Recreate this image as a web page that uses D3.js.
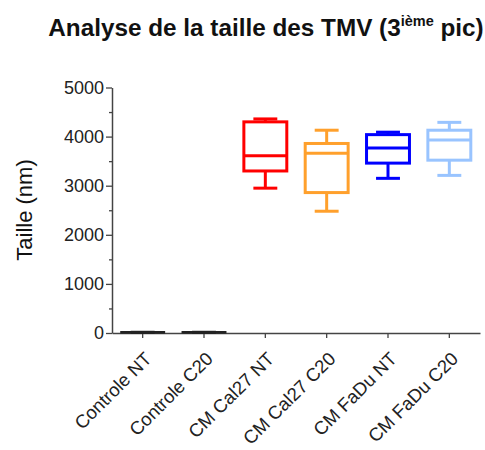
<!DOCTYPE html>
<html><head><meta charset="utf-8">
<script src="https://cdn.jsdelivr.net/npm/d3@7"></script>
<style>body{margin:0;background:#fff}svg{display:block}</style>
</head><body>
<svg id="c" width="485" height="450"></svg>
<script>
const categories = ["Controle NT","Controle C20","CM Cal27 NT","CM Cal27 C20","CM FaDu NT","CM FaDu C20"];
const mins    = [5, 5, 2950, 2480, 3150, 3210];
const q1s     = [10, 10, 3300, 2860, 3460, 3520];
const medians = [15, 15, 3610, 3660, 3770, 3930];
const q3s     = [20, 20, 4300, 3860, 4040, 4130];
const maxs    = [25, 25, 4360, 4130, 4090, 4290];
const colors  = ["#222222","#222222","#ff0000","#ffa02c","#0000ff","#99c4ff"];
const yTicks = [0,1000,2000,3000,4000,5000];

const FONT = "Arial, Liberation Sans, sans-serif";
const svg = d3.select("#c");
const x = d3.scaleBand().domain(categories).range([112, 480]).paddingInner(0).paddingOuter(0);
const y = d3.scaleLinear().domain([0, 5000]).range([333, 87.5]);

// title
const t = svg.append("text").attr("x", 266).attr("y", 36).attr("text-anchor","middle")
  .attr("font-family",FONT).attr("font-weight","bold").attr("font-size",24.3).attr("fill","#111");
t.append("tspan").text("Analyse de la taille des TMV (3");
t.append("tspan").attr("font-size",14.5).attr("dy",-10).text("ième");
t.append("tspan").attr("dy",10).text(" pic)");

// y label
svg.append("text").attr("transform","translate(32,210) rotate(-90)").attr("text-anchor","middle")
  .attr("font-family",FONT).attr("font-size",22).attr("fill","#111").text("Taille (nm)");

// y axis
const yAxis = d3.axisLeft(y).tickValues(yTicks).tickSize(6).tickSizeOuter(0).tickFormat(d3.format("d"));
const gy = svg.append("g").attr("transform","translate(112,0)").call(yAxis);
gy.selectAll("text").attr("font-family",FONT).attr("font-size",18).attr("fill","#222").attr("x",-8);
gy.selectAll("line").attr("stroke","#444").attr("stroke-width",1.3);
gy.select(".domain").attr("stroke","#444").attr("stroke-width",1.5);
const minor = d3.axisLeft(y).tickValues([500,1500,2500,3500,4500]).tickSize(3).tickFormat("").tickSizeOuter(0);
const gm = svg.append("g").attr("transform","translate(112,0)").call(minor);
gm.select(".domain").remove();
gm.selectAll("line").attr("stroke","#444").attr("stroke-width",1.3);

// x axis
const xAxis = d3.axisBottom(x).tickSize(5).tickSizeOuter(0);
const gx = svg.append("g").attr("transform","translate(0,333)").call(xAxis);
gx.select(".domain").attr("stroke","#444").attr("stroke-width",1.5);
gx.selectAll("line").attr("stroke","#444").attr("stroke-width",1.3);
gx.selectAll("text").attr("font-family",FONT).attr("font-size",18.5).attr("fill","#222")
  .attr("text-anchor","end").attr("transform","translate(10,27) rotate(-45)").attr("dy",0).attr("y",0).attr("x",0);

// boxes
const bw = x.bandwidth()*0.7, cw = x.bandwidth()*0.39;
const g = svg.append("g");
categories.forEach((c,i)=>{
  const cx = x(c)+x.bandwidth()/2, col = colors[i], sw = i<2 ? 2 : 3;
  const gg = g.append("g").attr("stroke",col).attr("stroke-width",sw).attr("fill","none");
  gg.append("line").attr("x1",cx).attr("x2",cx).attr("y1",y(maxs[i])).attr("y2",y(q3s[i]));
  gg.append("line").attr("x1",cx).attr("x2",cx).attr("y1",y(q1s[i])).attr("y2",y(mins[i]));
  gg.append("line").attr("x1",cx-cw/2).attr("x2",cx+cw/2).attr("y1",y(maxs[i])).attr("y2",y(maxs[i]));
  gg.append("line").attr("x1",cx-cw/2).attr("x2",cx+cw/2).attr("y1",y(mins[i])).attr("y2",y(mins[i]));
  gg.append("rect").attr("x",cx-bw/2).attr("width",bw).attr("y",y(q3s[i])).attr("height",y(q1s[i])-y(q3s[i]));
  gg.append("line").attr("x1",cx-bw/2).attr("x2",cx+bw/2).attr("y1",y(medians[i])).attr("y2",y(medians[i]));
});
</script>
</body></html>
